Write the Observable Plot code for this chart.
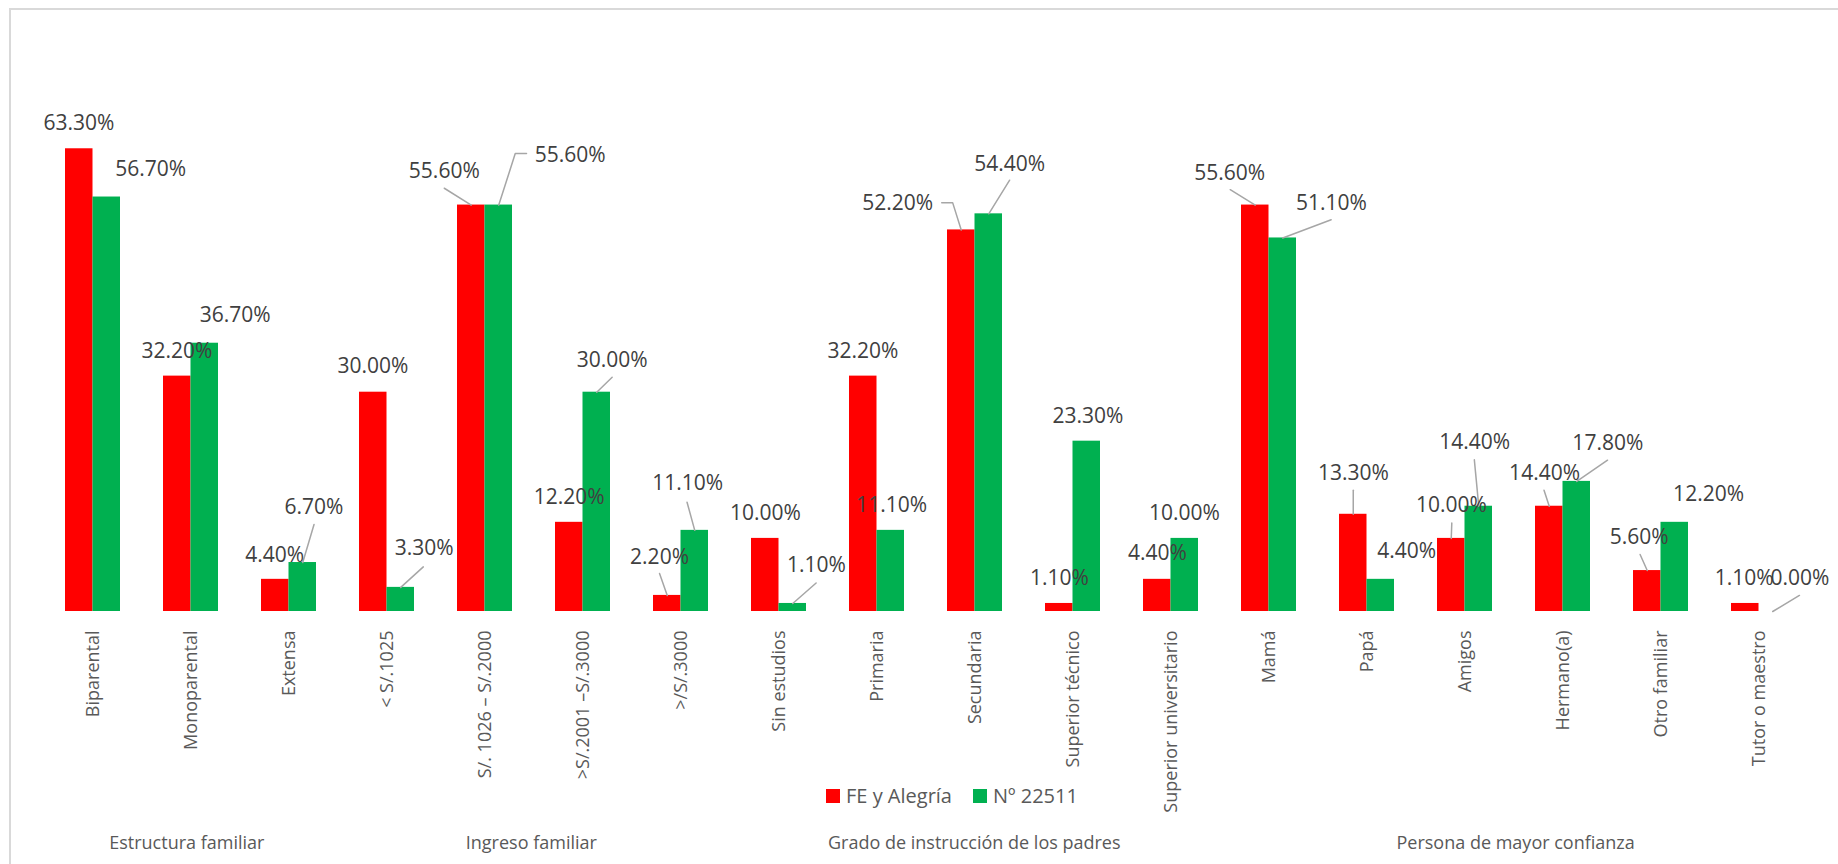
<!DOCTYPE html>
<html>
<head>
<meta charset="utf-8">
<script src="https://cdn.jsdelivr.net/npm/d3@7"></script>
<script src="https://cdn.jsdelivr.net/npm/@observablehq/plot@0.6"></script>
<style>
  html, body { margin: 0; padding: 0; background: #ffffff; overflow: hidden; }
  #wrap { position: relative; width: 1838px; height: 864px; font-family: 'Open Sans', sans-serif; }
  #frame { position: absolute; left: 9px; top: 8px; width: 1900px; height: 900px; border: 2px solid #D9D9D9; box-sizing: border-box; }
  #chart { position: absolute; left: 0; top: 0; }
  #legend { position: absolute; left: 826px; top: 781px; display: flex; align-items: center; font-size: 20px; color: #595959; line-height: 30px; }
  #legend .sw { width: 14px; height: 14px; display: inline-block; }
  #legend .lab { margin-left: 6px; margin-right: 21px; }
  #groups { position: absolute; left: 39.2px; top: 828px; width: 1771.8px; display: flex; font-size: 18px; color: #595959; line-height: 28px; }
  #groups div { text-align: center; white-space: nowrap; }
</style>
</head>
<body>
<div id="wrap">
  <div id="frame"></div>
  <div id="chart"></div>
  <div id="legend"></div>
  <div id="groups"></div>
</div>
<script>
// ---------------- data ----------------
const categories = [
  "Biparental", "Monoparental", "Extensa",
  "< S/.1025", "S/. 1026 – S/.2000", ">S/.2001 –S/.3000", ">/S/.3000",
  "Sin estudios", "Primaria", "Secundaria", "Superior técnico", "Superior universitario",
  "Mamá", "Papá", "Amigos", "Hermano(a)", "Otro familiar", "Tutor o maestro"
];
const seriesNames = ["FE y Alegría", "Nº 22511"];
const feAlegria = [63.3, 32.2, 4.4, 30.0, 55.6, 12.2, 2.2, 10.0, 32.2, 52.2, 1.1, 4.4, 55.6, 13.3, 10.0, 14.4, 5.6, 1.1];
const n22511    = [56.7, 36.7, 6.7, 3.3, 55.6, 30.0, 11.1, 1.1, 11.1, 54.4, 23.3, 10.0, 51.1, 4.4, 14.4, 17.8, 12.2, 0.0];
const groupNames = ["Estructura familiar", "Ingreso familiar", "Grado de instrucción de los padres", "Persona de mayor confianza"];
const groupSizes = [3, 4, 5, 6];

// ---------------- styles / layout ----------------
const seriesColors = ["#FF0000", "#00B050"];
// label placement (in-facet x units: red bar = [0,1], green bar = [1,2]; y in %)
const feLabelPos = [[0.49,66.8],[0.49,35.6],[0.48,7.7],[0.49,33.5],[-0.48,60.2],[0.5,15.6],[0.22,7.4],[0.51,13.5],[0.49,35.6],[-1.81,55.8],[0.51,4.6],[0.51,7.9],[-0.43,60.0],[0.51,18.9],[0.51,14.5],[0.33,18.9],[0.21,10.2],[0.46,4.5]];
const nLabelPos  = [[3.10,60.5],[2.61,40.5],[1.91,14.2],[2.35,8.6],[4.10,62.4],[2.06,34.4],[1.24,17.5],[2.36,6.3],[1.53,14.5],[2.26,61.2],[1.54,26.7],[1.49,13.45],[3.27,55.9],[2.44,8.3],[1.35,23.2],[2.63,23.0],[2.73,16.1],[2.49,4.5]];
// leader lines: [category index, series index, points from label side]; bar top is appended
const leaders = [
  [4,0,[[-0.48,57.9]]], [6,0,[[0.22,5.2]]], [9,0,[[-0.21,55.9],[0.19,55.9]]], [12,0,[[-0.41,57.7]]],
  [13,0,[[0.5,16.6]]], [14,0,[[0.52,12.1]]], [15,0,[[0.31,16.6]]], [16,0,[[0.24,7.8]]],
  [2,1,[[1.91,11.9]]], [3,1,[[2.32,6.1]]], [4,1,[[2.51,62.65],[2.10,62.65]]], [5,1,[[2.06,32.05]]],
  [6,1,[[1.22,14.95]]], [7,1,[[2.35,3.9]]], [9,1,[[2.26,59.0]]], [12,1,[[3.26,53.6]]],
  [14,1,[[1.34,20.75]]], [15,1,[[2.62,20.7]]], [17,1,[[2.47,2.2]]]
];

// ---------------- build tables ----------------
const valuesBySeries = [feAlegria, n22511];
const labelPosBySeries = [feLabelPos, nLabelPos];
const rows = [];
categories.forEach((c, i) => {
  seriesNames.forEach((s, k) => {
    rows.push({cat: c, series: s, k, value: valuesBySeries[k][i],
      lx: labelPosBySeries[k][i][0], ly: labelPosBySeries[k][i][1]});
  });
});
const leaderRows = [];
leaders.forEach(([ci, k, pts], id) => {
  const all = [...pts, [k + 0.5, valuesBySeries[k][ci]]];
  all.forEach(([x, y]) => leaderRows.push({id, cat: categories[ci], x, y}));
});

const chart = Plot.plot({
  width: 1838,
  height: 864,
  marginTop: 99.3,
  marginBottom: 253,
  marginLeft: 39.2,
  marginRight: 27,
  style: {fontFamily: "'Open Sans', sans-serif", background: "transparent", overflow: "visible"},
  fx: {domain: categories, paddingInner: 0.4372, paddingOuter: 0.2186, axis: null, label: null},
  x: {domain: [0, 2], axis: null},
  y: {domain: [0, 70], axis: null},
  color: {domain: seriesNames, range: seriesColors},
  marks: [
    Plot.rect(rows, {fx: "cat", x1: d => d.k, x2: d => d.k + 1, y1: d => 0, y2: "value", fill: "series"}),
    Plot.line(leaderRows, {fx: "cat", x: "x", y: "y", z: "id", stroke: "#A6A6A6", strokeWidth: 1.5}),
    Plot.text(rows, {fx: "cat", x: "lx", y: "ly", text: d => d.value.toFixed(2) + "%", fontSize: 21, fill: "#404040"}),
    Plot.axisFx({anchor: "bottom", tickRotate: -90, tickSize: 0, tickPadding: 19, fontSize: 18, color: "#595959", label: null})
  ]
});
document.getElementById("chart").appendChild(chart);

// legend
const legend = document.getElementById("legend");
seriesNames.forEach((s, k) => {
  const sw = document.createElement("span");
  sw.className = "sw";
  sw.style.background = seriesColors[k];
  const lab = document.createElement("span");
  lab.className = "lab";
  lab.textContent = s;
  legend.appendChild(sw);
  legend.appendChild(lab);
});

// group labels
const groups = document.getElementById("groups");
const total = groupSizes.reduce((a, b) => a + b, 0);
groupNames.forEach((g, i) => {
  const d = document.createElement("div");
  d.style.flex = `0 0 ${groupSizes[i] / total * 100}%`;
  d.textContent = g;
  groups.appendChild(d);
});
</script>
</body>
</html>
